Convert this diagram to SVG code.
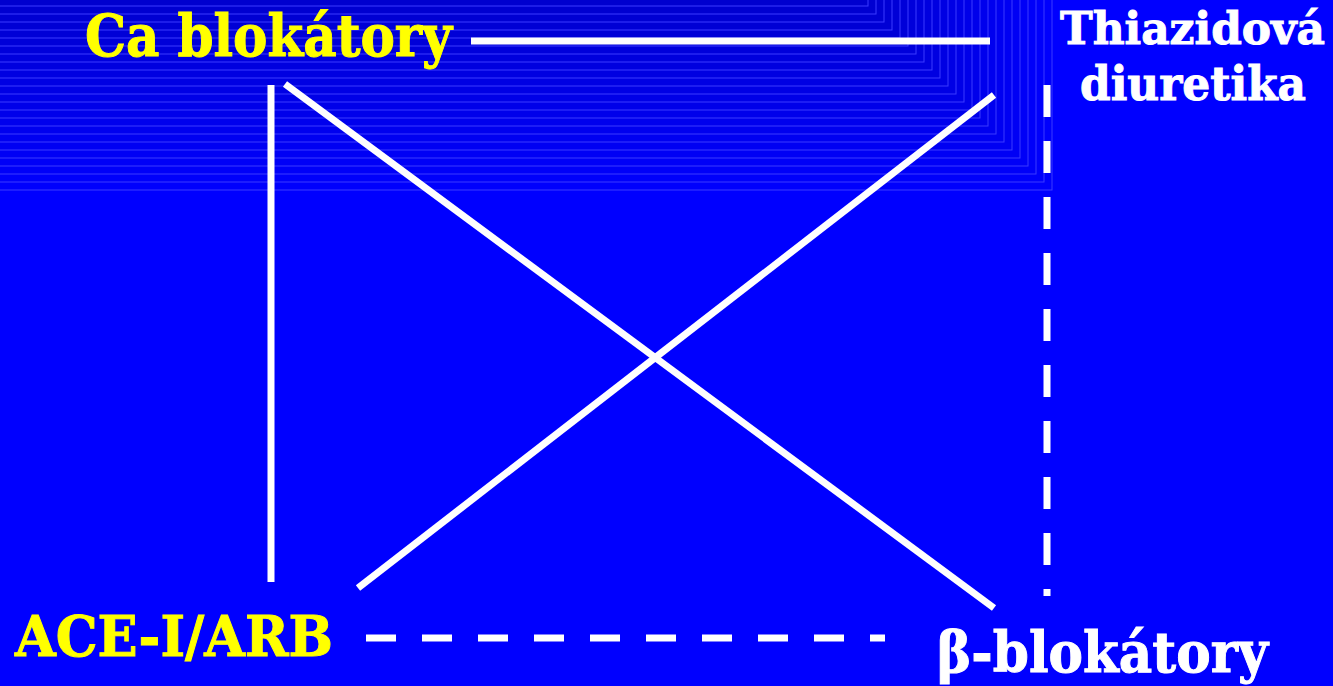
<svg xmlns="http://www.w3.org/2000/svg" width="1333" height="686" viewBox="0 0 1333 686">
<style>
.lbl{font-family:"DejaVu Serif","Liberation Serif",serif;font-weight:bold;stroke-width:1;}
.y{fill:#FFFF00;stroke:#FFFF00;}
.w{fill:#FFFFFF;stroke:#FFFFFF;}
.ln{stroke:#FFFFFF;stroke-width:7;fill:none;}
.bg{stroke:#3a3aff;stroke-width:1;}
</style>
<rect x="0" y="0" width="1333" height="686" fill="#0000FF"/>
<g id="gradient">
<rect class="bg" x="-2" y="-2" width="1054" height="192" fill="#0000FD"/>
<rect class="bg" x="-2" y="-2" width="1046" height="184" fill="#0000FB"/>
<rect class="bg" x="-2" y="-2" width="1038" height="176" fill="#0000F9"/>
<rect class="bg" x="-2" y="-2" width="1030" height="168" fill="#0000F7"/>
<rect class="bg" x="-2" y="-2" width="1022" height="160" fill="#0000F5"/>
<rect class="bg" x="-2" y="-2" width="1014" height="152" fill="#0000F3"/>
<rect class="bg" x="-2" y="-2" width="1006" height="144" fill="#0000F1"/>
<rect class="bg" x="-2" y="-2" width="998" height="136" fill="#0000EF"/>
<rect class="bg" x="-2" y="-2" width="990" height="128" fill="#0000ED"/>
<rect class="bg" x="-2" y="-2" width="982" height="120" fill="#0000EB"/>
<rect class="bg" x="-2" y="-2" width="974" height="112" fill="#0000E9"/>
<rect class="bg" x="-2" y="-2" width="966" height="104" fill="#0000E7"/>
<rect class="bg" x="-2" y="-2" width="958" height="96" fill="#0000E5"/>
<rect class="bg" x="-2" y="-2" width="950" height="88" fill="#0000E3"/>
<rect class="bg" x="-2" y="-2" width="942" height="80" fill="#0000E1"/>
<rect class="bg" x="-2" y="-2" width="934" height="72" fill="#0000DF"/>
<rect class="bg" x="-2" y="-2" width="926" height="64" fill="#0000DD"/>
<rect class="bg" x="-2" y="-2" width="918" height="56" fill="#0000DB"/>
<rect class="bg" x="-2" y="-2" width="910" height="48" fill="#0000D9"/>
<rect class="bg" x="-2" y="-2" width="902" height="40" fill="#0000D7"/>
<rect class="bg" x="-2" y="-2" width="894" height="32" fill="#0000D5"/>
<rect class="bg" x="-2" y="-2" width="886" height="24" fill="#0000D3"/>
<rect class="bg" x="-2" y="-2" width="878" height="16" fill="#0000D1"/>
<rect class="bg" x="-2" y="-2" width="870" height="8" fill="#0000CF"/>
</g>
<g id="connectors">
<line class="ln" x1="471" y1="41" x2="990" y2="41"/>
<line class="ln" x1="271" y1="85" x2="271" y2="582"/>
<line class="ln" x1="285" y1="84" x2="994" y2="608"/>
<line class="ln" x1="994" y1="95" x2="358" y2="588"/>
<line class="ln" x1="1047" y1="85" x2="1047" y2="596" stroke-width="9" stroke-dasharray="32 24"/>
<line class="ln" x1="366" y1="638" x2="885" y2="638" stroke-width="8" stroke-dasharray="30 26"/>
</g>
<g id="ca"><text class="lbl y" x="85" y="56" font-size="57" textLength="367" lengthAdjust="spacingAndGlyphs">Ca blokátory</text></g>
<g id="thiazid"><text class="lbl w" x="1060" y="44" font-size="45" textLength="265" lengthAdjust="spacingAndGlyphs">Thiazidová</text>
<text class="lbl w" x="1080" y="100" font-size="46" textLength="226" lengthAdjust="spacingAndGlyphs">diuretika</text></g>
<g id="ace"><text class="lbl y" x="15" y="656" font-size="56" textLength="318" lengthAdjust="spacingAndGlyphs">ACE-I/ARB</text></g>
<g id="beta"><text class="lbl w" x="937" y="672" font-size="56" textLength="331" lengthAdjust="spacingAndGlyphs">β-blokátory</text></g>
</svg>
